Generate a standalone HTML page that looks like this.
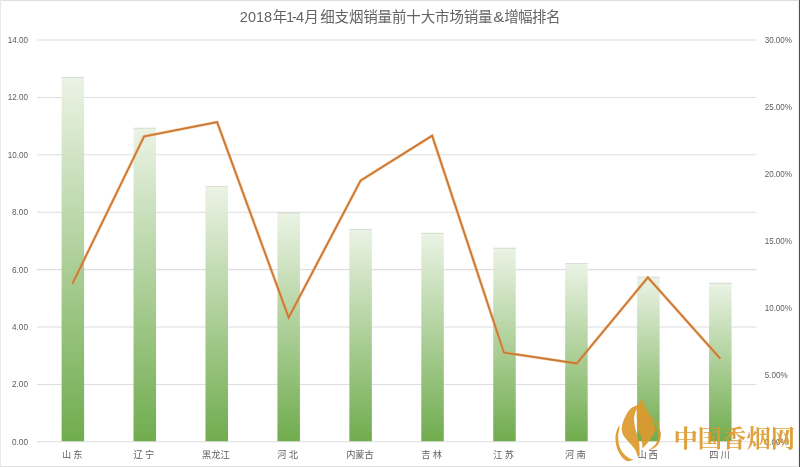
<!DOCTYPE html>
<html lang="zh"><head><meta charset="utf-8"><title>2018年1-4月 细支烟销量前十大市场销量&amp;增幅排名</title>
<style>html,body{margin:0;padding:0;background:#fff;overflow:hidden}body{width:800px;height:467px;position:relative;font-family:"Liberation Sans","Noto Sans CJK SC",sans-serif}svg{display:block;position:absolute;left:0;top:0}text{font-family:"Liberation Sans","Noto Sans CJK SC",sans-serif}.ax{font-size:9.2px;fill:#5c5c5c}.tt{font-size:14.5px;fill:#646464}</style></head><body>
<svg width="800" height="467" viewBox="0 0 800 467">
<defs><linearGradient id="g" x1="0" y1="0" x2="0" y2="1"><stop offset="0" stop-color="#ebf3e5"/><stop offset="1" stop-color="#70ac4e"/></linearGradient><filter id="soft" filterUnits="userSpaceOnUse" x="0" y="0" width="800" height="467"><feGaussianBlur stdDeviation="0.4"/></filter></defs>
<rect width="800" height="467" fill="#fff"/>
<rect x="0" y="0" width="798" height="1" fill="#dedede"/>
<rect x="0" y="0" width="1" height="467" fill="#e9e9e9"/>
<rect x="0" y="466" width="798" height="1" fill="#e0e0e0"/>
<rect x="798.9" y="0" width="1.1" height="467" fill="#505050"/>
<g filter="url(#soft)">
<g stroke="#dedede" stroke-width="1.05">
<line x1="36.9" y1="441.8" x2="756.6" y2="441.8"/>
<line x1="36.9" y1="384.4" x2="756.6" y2="384.4"/>
<line x1="36.9" y1="327" x2="756.6" y2="327"/>
<line x1="36.9" y1="269.6" x2="756.6" y2="269.6"/>
<line x1="36.9" y1="212.2" x2="756.6" y2="212.2"/>
<line x1="36.9" y1="154.8" x2="756.6" y2="154.8"/>
<line x1="36.9" y1="97.4" x2="756.6" y2="97.4"/>
<line x1="36.9" y1="40" x2="756.6" y2="40"/>
</g>
<g>
<rect x="61.6" y="77.31" width="22.5" height="363.89" fill="url(#g)"/>
<rect x="61.6" y="77.01" width="22.5" height="0.6" fill="#a3b397" opacity="0.6"/>
<rect x="133.54" y="128.11" width="22.5" height="313.09" fill="url(#g)"/>
<rect x="133.54" y="127.81" width="22.5" height="0.6" fill="#a3b397" opacity="0.6"/>
<rect x="205.48" y="186.66" width="22.5" height="254.54" fill="url(#g)"/>
<rect x="205.48" y="186.36" width="22.5" height="0.6" fill="#a3b397" opacity="0.6"/>
<rect x="277.42" y="213.06" width="22.5" height="228.14" fill="url(#g)"/>
<rect x="277.42" y="212.76" width="22.5" height="0.6" fill="#a3b397" opacity="0.6"/>
<rect x="349.36" y="229.42" width="22.5" height="211.78" fill="url(#g)"/>
<rect x="349.36" y="229.12" width="22.5" height="0.6" fill="#a3b397" opacity="0.6"/>
<rect x="421.3" y="233.15" width="22.5" height="208.05" fill="url(#g)"/>
<rect x="421.3" y="232.85" width="22.5" height="0.6" fill="#a3b397" opacity="0.6"/>
<rect x="493.24" y="248.08" width="22.5" height="193.12" fill="url(#g)"/>
<rect x="493.24" y="247.78" width="22.5" height="0.6" fill="#a3b397" opacity="0.6"/>
<rect x="565.18" y="263.57" width="22.5" height="177.63" fill="url(#g)"/>
<rect x="565.18" y="263.27" width="22.5" height="0.6" fill="#a3b397" opacity="0.6"/>
<rect x="637.12" y="277.06" width="22.5" height="164.14" fill="url(#g)"/>
<rect x="637.12" y="276.76" width="22.5" height="0.6" fill="#a3b397" opacity="0.6"/>
<rect x="709.06" y="283.09" width="22.5" height="158.11" fill="url(#g)"/>
<rect x="709.06" y="282.79" width="22.5" height="0.6" fill="#a3b397" opacity="0.6"/>
</g>
<polyline points="72.35,283.89 144.09,136.43 217.13,122.1 288.67,317.61 360.61,180.63 432.15,135.67 503.89,352.56 576.73,363.48 647.87,277.43 720.31,358.69" fill="none" stroke="#f0a45c" stroke-opacity="0.6" stroke-width="3.0" stroke-linejoin="miter" stroke-miterlimit="10"/>
<polyline points="72.35,283.89 144.09,136.43 217.13,122.1 288.67,317.61 360.61,180.63 432.15,135.67 503.89,352.56 576.73,363.48 647.87,277.43 720.31,358.69" fill="none" stroke="#ca7935" stroke-width="1.75" stroke-linejoin="miter" stroke-miterlimit="10"/>
<g class="ax" text-anchor="end" opacity="0.999">
<text x="28" y="444.75" textLength="16.0" lengthAdjust="spacingAndGlyphs">0.00</text>
<text x="28" y="387.35" textLength="16.0" lengthAdjust="spacingAndGlyphs">2.00</text>
<text x="28" y="329.95" textLength="16.0" lengthAdjust="spacingAndGlyphs">4.00</text>
<text x="28" y="272.55" textLength="16.0" lengthAdjust="spacingAndGlyphs">6.00</text>
<text x="28" y="215.15" textLength="16.0" lengthAdjust="spacingAndGlyphs">8.00</text>
<text x="28" y="157.75" textLength="20.2" lengthAdjust="spacingAndGlyphs">10.00</text>
<text x="28" y="100.35" textLength="20.2" lengthAdjust="spacingAndGlyphs">12.00</text>
<text x="28" y="42.95" textLength="20.2" lengthAdjust="spacingAndGlyphs">14.00</text>
</g>
<g class="ax" opacity="0.999">
<text x="764.7" y="444.8" textLength="23.0" lengthAdjust="spacingAndGlyphs">0.00%</text>
<text x="764.7" y="377.83" textLength="23.0" lengthAdjust="spacingAndGlyphs">5.00%</text>
<text x="764.7" y="310.87" textLength="27.3" lengthAdjust="spacingAndGlyphs">10.00%</text>
<text x="764.7" y="243.9" textLength="27.3" lengthAdjust="spacingAndGlyphs">15.00%</text>
<text x="764.7" y="176.93" textLength="27.3" lengthAdjust="spacingAndGlyphs">20.00%</text>
<text x="764.7" y="109.97" textLength="27.3" lengthAdjust="spacingAndGlyphs">25.00%</text>
<text x="764.7" y="43" textLength="27.3" lengthAdjust="spacingAndGlyphs">30.00%</text>
</g>
<g class="tt" opacity="0.999">
<text x="239.8 247.9 256.0 264.0" y="22.0">2018</text>
<text x="272.8" y="22.0">年</text>
<text x="286.1 292.0 296.0" y="22.0">1-4</text>
<text x="304.3" y="22.0">月</text>
<text x="320.2" y="22.0" textLength="172.4" lengthAdjust="spacing">细支烟销量前十大市场销量</text>
<text x="493.2" y="22.0" textLength="11" lengthAdjust="spacingAndGlyphs">&amp;</text>
<text x="504.2" y="22.0" textLength="56.2" lengthAdjust="spacing">增幅排名</text>
</g>
<g font-size="9.2" fill="#606060">
<text x="62.0 73.2" y="457.7">山东</text>
<text x="133.5 145.0" y="457.7">辽宁</text>
<text x="202.0 211.2 220.5" y="457.7">黑龙江</text>
<text x="277.3 288.8" y="457.7">河北</text>
<text x="346.2 355.2 364.4" y="457.7">内蒙古</text>
<text x="421.3 432.7" y="457.7">吉林</text>
<text x="493.2 504.8" y="457.7">江苏</text>
<text x="565.0 576.6" y="457.7">河南</text>
<text x="637.5 648.5" y="457.7">山西</text>
<text x="709.2 720.5" y="457.7">四川</text>
</g>
<g opacity="0.93">
<g fill="#dc9a2e"><path d="M641.7 399.6C641.47 399.9 640.7 400.77 640.3 401.4C639.9 402.03 639.98 402.7 639.3 403.4C638.62 404.1 637.67 404.7 636.2 405.6C634.73 406.5 632.27 407.07 630.5 408.8C628.73 410.53 626.9 413.63 625.6 416C624.3 418.37 623.35 420.83 622.7 423C622.05 425.17 621.67 427.08 621.7 429C621.73 430.92 622.1 432.73 622.9 434.5C623.7 436.27 625.15 437.92 626.5 439.6C627.85 441.28 629.57 442.93 631 444.6C632.43 446.27 634.02 447.73 635.1 449.6C636.18 451.47 637.1 454.77 637.5 455.8C637.82 455.8 639.08 455.8 639.4 455.8C639.42 455 639.52 453.07 639.5 451C639.48 448.93 639.63 445.95 639.3 443.4C638.97 440.85 638.18 438.27 637.5 435.7C636.82 433.13 635.77 430.7 635.2 428C634.63 425.3 634.13 421.92 634.1 419.5C634.07 417.08 634.57 415.23 635 413.5C635.43 411.77 636.42 409.83 636.7 409.1C636.73 410.75 636.75 415.85 636.9 419C637.05 422.15 636.93 425.22 637.6 428C638.27 430.78 640.15 433.13 640.9 435.7C641.65 438.27 641.83 441.28 642.1 443.4C642.37 445.52 642.43 447.57 642.5 448.4C643.15 447.7 645.02 445.87 646.4 444.2C647.78 442.53 649.53 440.2 650.8 438.4C652.07 436.6 653.28 435 654 433.4C654.72 431.8 655.17 430.6 655.1 428.8C655.03 427 654.45 424.9 653.6 422.6C652.75 420.3 651.27 417.37 650 415C648.73 412.63 647.02 410.33 646 408.4C644.98 406.47 644.37 404.6 643.9 403.4C643.43 402.2 643.57 401.83 643.2 401.2C642.83 400.57 641.95 399.87 641.7 399.6Z"/><path d="M650.9 414C651.73 415.13 654.62 418.72 655.9 420.8C657.18 422.88 657.85 424.8 658.6 426.5C659.35 428.2 660.03 429.42 660.4 431C660.77 432.58 661.03 434 660.8 436C660.57 438 659.97 441.07 659 443C658.03 444.93 656.78 446.35 655 447.6C653.22 448.85 649.42 450.02 648.3 450.5C649.08 449.88 651.67 448.05 653 446.8C654.33 445.55 655.4 444.8 656.3 443C657.2 441.2 658.1 438 658.4 436C658.7 434 658.33 432.62 658.1 431C657.87 429.38 657.53 427.97 657 426.3C656.47 424.63 655.92 423.05 654.9 421C653.88 418.95 651.57 415.17 650.9 414Z"/><path d="M619.6 425.3C619.27 425.83 618.28 426.77 617.6 428.5C616.92 430.23 615.78 433.22 615.5 435.7C615.22 438.18 615.45 440.83 615.9 443.4C616.35 445.97 617.18 448.78 618.2 451.1C619.22 453.42 620.47 455.62 622 457.3C623.53 458.98 625.47 460.8 627.4 461.2C629.33 461.6 632.57 459.95 633.6 459.7C632.98 459.48 631.23 459.12 629.9 458.4C628.57 457.68 627.02 456.73 625.6 455.4C624.18 454.07 622.53 452.4 621.4 450.4C620.27 448.4 619.33 445.85 618.8 443.4C618.27 440.95 618.12 438.13 618.2 435.7C618.28 433.27 619.07 430.53 619.3 428.8C619.53 427.07 619.55 425.88 619.6 425.3Z"/></g>
<text x="673.5" y="447" font-size="24" font-weight="700" fill="#dc9a2e" textLength="121.5" lengthAdjust="spacingAndGlyphs" style="font-family:'Liberation Serif','Noto Serif CJK SC',serif">中国香烟网</text>
</g>
</g>
</svg>
</body></html>
